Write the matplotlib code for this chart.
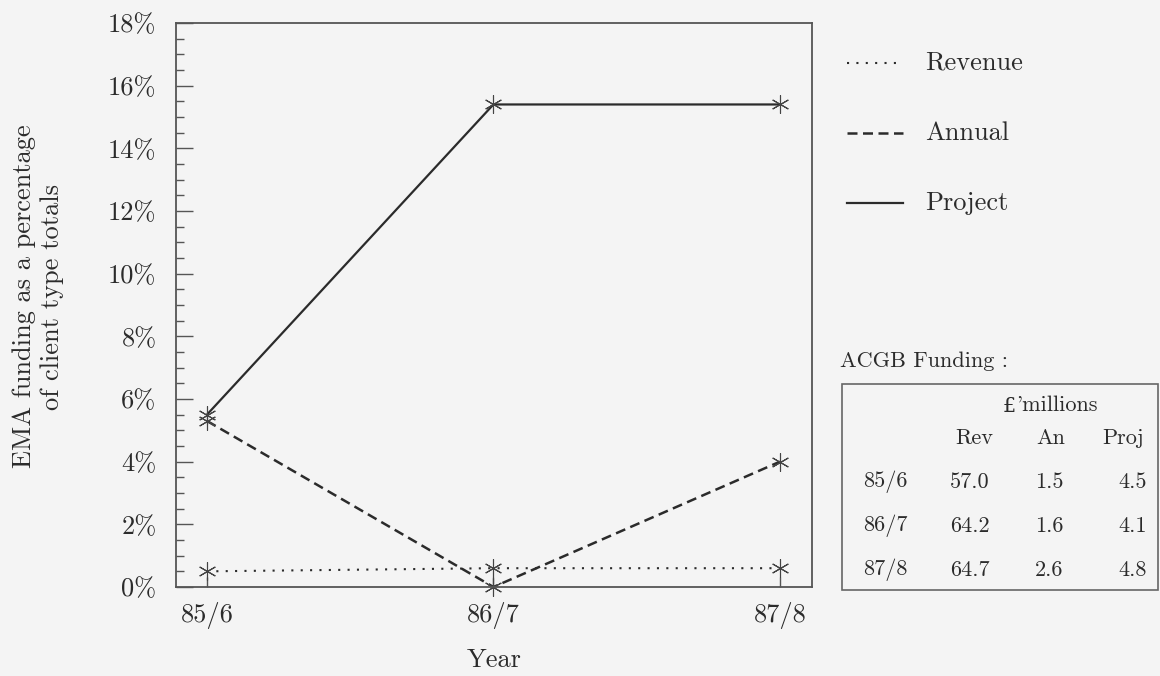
import matplotlib
matplotlib.use('Agg')
import matplotlib.pyplot as plt
from matplotlib.lines import Line2D
from matplotlib.patches import Rectangle

# data
years = ['85/6', '86/7', '87/8']
revenue = [0.5, 0.6, 0.6]
annual = [5.3, 0.0, 4.0]
project = [5.5, 15.4, 15.4]
series_names = ['Revenue', 'Annual', 'Project']

acgb_cols = ['Rev', 'An', 'Proj']
acgb_rev = ['57.0', '64.2', '64.7']
acgb_an = ['1.5', '1.6', '2.6']
acgb_proj = ['4.5', '4.1', '4.8']

plt.rcParams['font.family'] = ['cmr10', 'DejaVu Serif']
plt.rcParams['axes.unicode_minus'] = False
ink = '#2b2b2b'
bg = '#f4f4f4'
fs = 19     # main text
tfs = 16    # table text

W, H = 1160, 676
fig = plt.figure(figsize=(W / 100, H / 100), dpi=100, facecolor=bg)
ax = fig.add_axes([176 / W, 1 - 587 / H, 636 / W, 564 / H], facecolor=bg)

def px(x, y):
    return x / W, 1 - y / H

styles = [(0, (1, 3.5)), (0, (4, 2.2)), '-']
widths = [1.5, 1.8, 1.6]
xs = list(range(len(years)))
for vals, ls, lw in zip([revenue, annual, project], styles, widths):
    ax.plot(xs, vals, color=ink, ls=ls, lw=lw, marker=(6, 2, 0),
            ms=13, mew=0.8, mec='#444444', clip_on=False)

ax.set_xlim(-0.108, 2.112)
ax.set_ylim(0, 18)
ax.set_xticks(xs)
ax.set_xticklabels(years)
ax.set_yticks(range(0, 19, 2))
ax.set_yticklabels([f'{v}%' for v in range(0, 19, 2)])
ax.set_yticks([v * 0.5 for v in range(37)], minor=True)
ax.tick_params(axis='y', which='major', direction='in', length=12, width=1,
               color='#555555', labelsize=fs, pad=14, labelcolor=ink)
ax.tick_params(axis='y', which='minor', direction='in', length=6, width=1,
               color='#555555')
ax.tick_params(axis='x', direction='in', length=7, width=1, color='#555555',
               labelsize=fs, pad=11, labelcolor=ink)
for s in ax.spines.values():
    s.set_color('#555555')
    s.set_linewidth(1.3)

ax.set_xlabel('Year', fontsize=fs, color=ink, labelpad=14)
ax.set_ylabel('EMA funding as a percentage\nof client type totals',
              fontsize=fs, color=ink, va='center', linespacing=1.2)
ax.yaxis.set_label_coords((38 - 176) / 636, 0.515)

# legend drawn by hand
for i, (name, ls, lw) in enumerate(zip(series_names, styles, widths)):
    y = 63 + 70 * i
    fig.add_artist(Line2D([847 / W, 903 / W], [1 - y / H] * 2, color=ink,
                          ls=ls, lw=lw, transform=fig.transFigure))
    fig.text(*px(925, y), name, fontsize=fs, color=ink, va='center')

# ACGB funding table
fig.text(*px(840, 361), 'ACGB Funding :', fontsize=tfs, color=ink, va='center')
x0, y0 = px(842, 590)
fig.add_artist(Rectangle((x0, y0), (1158 - 842) / W, (590 - 384) / H,
                         transform=fig.transFigure, fill=False,
                         ec='#666666', lw=1.2))
# cmr10 has no pound sign, so it is set in DejaVu Serif
fig.text(*px(1016, 406), '£', fontsize=tfs - 1, color=ink, family='DejaVu Serif',
         ha='right', va='center')
fig.text(*px(1016, 405), "'millions", fontsize=tfs, color=ink,
         ha='left', va='center')
for name, cx in zip(acgb_cols, [974, 1051, 1123]):
    fig.text(*px(cx, 438), name, fontsize=tfs, color=ink, ha='center', va='center')
for i, yr in enumerate(years):
    y = 482 + 44 * i
    fig.text(*px(863, y), yr, fontsize=tfs, color=ink, va='center')
    fig.text(*px(970, y), acgb_rev[i], fontsize=tfs, color=ink, ha='center', va='center')
    fig.text(*px(1049, y), acgb_an[i], fontsize=tfs, color=ink, ha='center', va='center')
    fig.text(*px(1147, y), acgb_proj[i], fontsize=tfs, color=ink, ha='right', va='center')

fig.savefig('out.png', dpi=100, facecolor=bg)
